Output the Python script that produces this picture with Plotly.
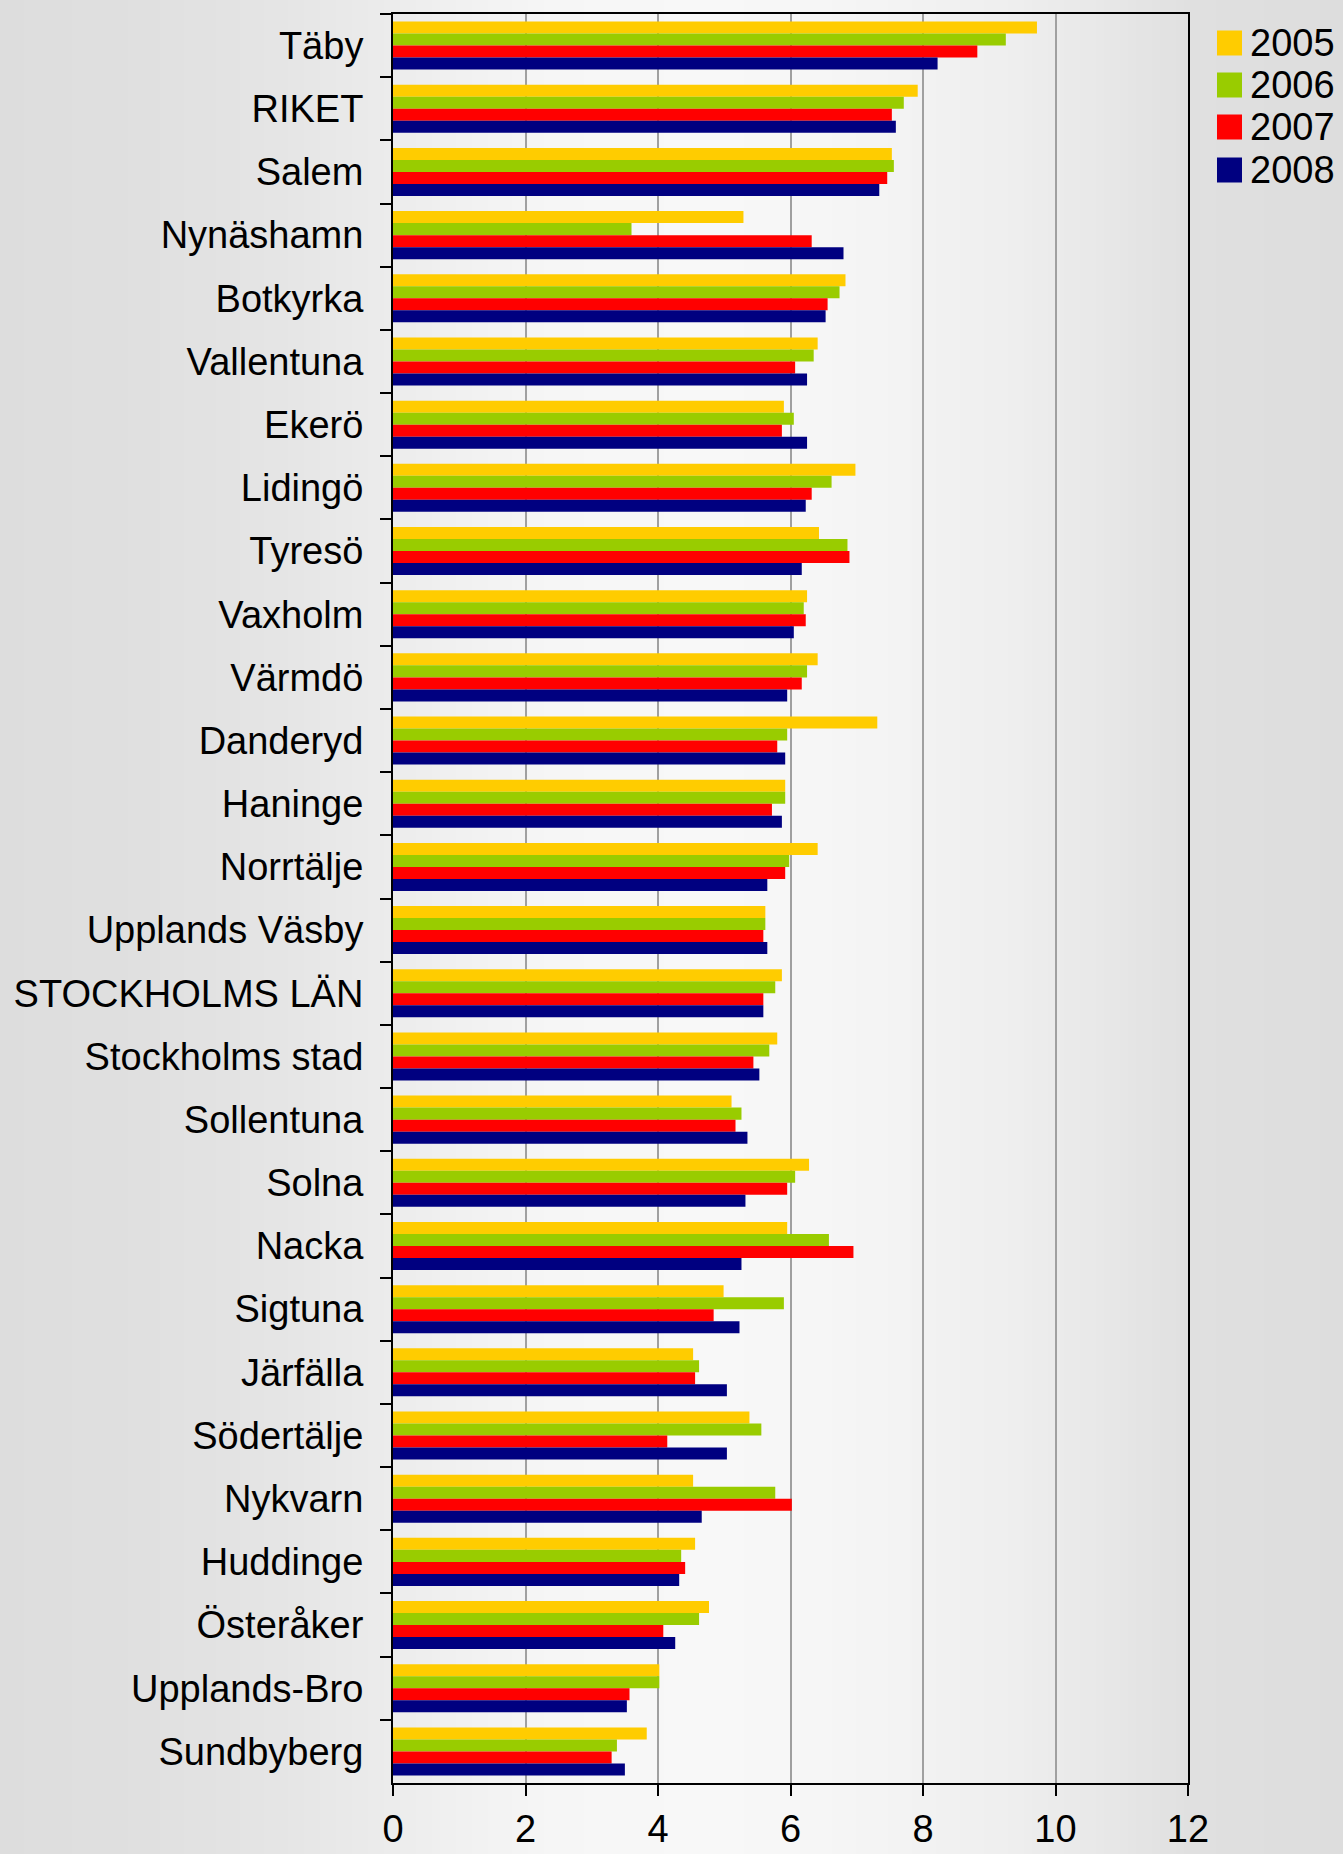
import plotly.graph_objects as go

categories = ["Täby", "RIKET", "Salem", "Nynäshamn", "Botkyrka", "Vallentuna", "Ekerö",
              "Lidingö", "Tyresö", "Vaxholm", "Värmdö", "Danderyd", "Haninge", "Norrtälje",
              "Upplands Väsby", "STOCKHOLMS LÄN", "Stockholms stad", "Sollentuna", "Solna",
              "Nacka", "Sigtuna", "Järfälla", "Södertälje", "Nykvarn", "Huddinge",
              "Österåker", "Upplands-Bro", "Sundbyberg"]

years = ["2005", "2006", "2007", "2008"]

v2005 = [9.72, 7.92, 7.53, 5.29, 6.83, 6.41, 5.90, 6.98, 6.43, 6.25, 6.41, 7.31, 5.92, 6.41,
         5.62, 5.87, 5.80, 5.11, 6.28, 5.95, 4.99, 4.53, 5.38, 4.53, 4.56, 4.77, 4.02, 3.83]
v2006 = [9.25, 7.71, 7.56, 3.60, 6.74, 6.35, 6.05, 6.62, 6.86, 6.20, 6.25, 5.95, 5.92, 5.98,
         5.62, 5.77, 5.68, 5.26, 6.07, 6.58, 5.90, 4.62, 5.56, 5.77, 4.35, 4.62, 4.02, 3.38]
v2007 = [8.82, 7.53, 7.46, 6.32, 6.56, 6.07, 5.87, 6.32, 6.89, 6.23, 6.17, 5.80, 5.72, 5.92,
         5.59, 5.59, 5.44, 5.17, 5.95, 6.95, 4.84, 4.56, 4.14, 6.02, 4.41, 4.08, 3.57, 3.30]
v2008 = [8.22, 7.59, 7.34, 6.80, 6.53, 6.25, 6.25, 6.23, 6.17, 6.05, 5.95, 5.92, 5.87, 5.65,
         5.65, 5.59, 5.53, 5.35, 5.32, 5.26, 5.23, 5.04, 5.04, 4.66, 4.32, 4.26, 3.53, 3.50]

series = [v2005, v2006, v2007, v2008]
colors = ["#FFCC00", "#99CC00", "#FF0000", "#000080"]

x_ticks = [0, 2, 4, 6, 8, 10, 12]

# ---- layout geometry (pixels) ----
W, H = 1343, 1854
L, R, T, B = 393, 1188, 14, 1783
FONT = dict(family="Liberation Sans, Arial, sans-serif", size=38, color="black")

fig = go.Figure()
for name, vals, col in zip(years, series, colors):
    fig.add_trace(go.Bar(y=categories, x=vals, name=name, orientation="h",
                         marker=dict(color=col, line=dict(width=0)), showlegend=False))

def px2paper_x(px):
    return (px - L) / (R - L)

def px2paper_y(py):
    return 1 - (py - T) / (B - T)

# background gradient (light in the middle, darker at the edges)
stops = [(0, 221), (150, 224), (300, 230), (393, 236), (450, 240), (550, 246), (700, 248),
         (790, 247), (900, 243), (1000, 239), (1100, 232), (1190, 224), (1343, 221)]

def level(px):
    for (x0, c0), (x1, c1) in zip(stops[:-1], stops[1:]):
        if x0 <= px <= x1:
            return c0 + (c1 - c0) * (px - x0) / (x1 - x0)
    return stops[-1][1]

shapes = []
step = 8
px = 0
while px < W:
    c = int(round(level(px + step / 2)))
    shapes.append(dict(type="rect", xref="paper", yref="paper",
                       x0=px2paper_x(px), x1=px2paper_x(px + step + 0.8),
                       y0=px2paper_y(H + 20), y1=px2paper_y(-20),
                       fillcolor=f"rgb({c},{c},{c})", line=dict(width=0), layer="below"))
    px += step

# custom legend (large square swatches)
legend_y = [43, 85, 127, 170]
annotations = []
for name, col, cy in zip(years, colors, legend_y):
    shapes.append(dict(type="rect", xref="paper", yref="paper",
                       x0=px2paper_x(1217), x1=px2paper_x(1242),
                       y0=px2paper_y(cy + 12.5), y1=px2paper_y(cy - 12.5),
                       fillcolor=col, line=dict(width=0), layer="above"))
    annotations.append(dict(text=name, xref="paper", yref="paper",
                            x=px2paper_x(1248), y=px2paper_y(cy), xanchor="left",
                            yanchor="middle", showarrow=False, font=FONT))

fig.update_layout(
    width=W, height=H, autosize=False,
    margin=dict(l=L, r=W - R, t=T, b=H - B, pad=0, autoexpand=False),
    paper_bgcolor="#e6e6e6",
    plot_bgcolor="rgba(0,0,0,0)",
    barmode="group", bargap=0.24, bargroupgap=0,
    font=FONT,
    shapes=shapes,
    annotations=annotations,
    showlegend=False,
)

fig.update_xaxes(range=[0, 12], tickvals=x_ticks, ticktext=[str(t) for t in x_ticks],
                 showgrid=True, gridcolor="#a0a0a0", gridwidth=1.5, zeroline=False,
                 showline=True, linecolor="black", linewidth=2, mirror=True,
                 ticks="outside", ticklen=11, tickwidth=2, tickcolor="black",
                 ticklabelstandoff=0, tickfont=FONT, fixedrange=True, automargin=False)

fig.update_yaxes(type="category", categoryorder="array", categoryarray=categories,
                 autorange="reversed", showgrid=False, zeroline=False,
                 showline=True, linecolor="black", linewidth=2, mirror=True,
                 ticks="outside", tickson="boundaries", ticklen=11, tickwidth=2,
                 tickcolor="black", ticklabelstandoff=20, tickfont=FONT, fixedrange=True,
                 automargin=False)

fig.write_html("out.html", config={"displayModeBar": False},
               post_script="document.body.style.margin='0';document.body.style.padding='0';"
                           "document.body.style.overflow='hidden';")
